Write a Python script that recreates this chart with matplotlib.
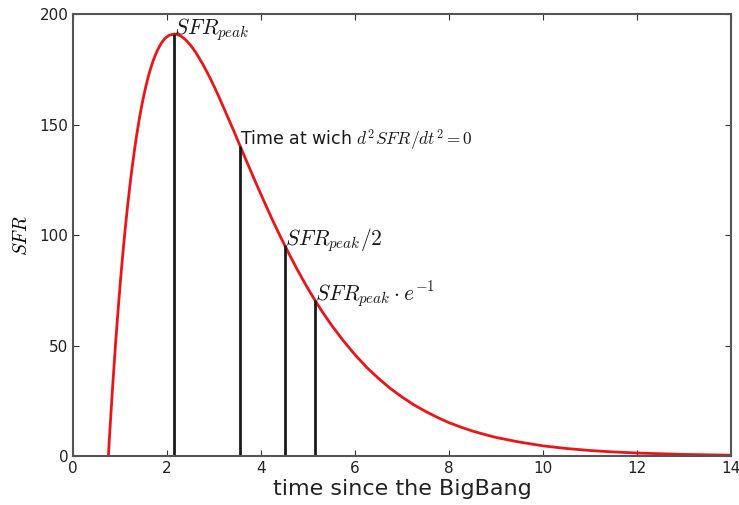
import matplotlib
matplotlib.use('Agg')
import matplotlib.pyplot as plt

plt.rcParams['mathtext.fontset'] = 'cm'

# star formation history
t = [0.75, 0.775, 0.8, 0.85, 0.9, 0.95, 1.0, 1.05, 1.1, 1.15, 1.2, 1.25, 1.3,
     1.35, 1.4, 1.45, 1.5, 1.55, 1.6, 1.65, 1.7, 1.75, 1.8, 1.85, 1.9, 1.95,
     2.0, 2.05, 2.15, 2.22, 2.3, 2.4, 2.5, 2.6, 2.75, 2.9, 3.0, 3.1, 3.25,
     3.4, 3.55, 3.75, 3.9, 4.0, 4.1, 4.25, 4.4, 4.5, 4.6, 4.75, 4.9, 5.0,
     5.15, 5.3, 5.5, 5.75, 6.0, 6.25, 6.5, 6.75, 7.0, 7.25, 7.5, 7.75, 8.0,
     8.25, 8.5, 8.75, 9.0, 9.5, 10.0, 10.5, 11.0, 11.5, 12.0, 13.0, 14.0]
sfr = [0, 9.1, 17.9, 34.5, 50.0, 64.3, 77.6, 89.8, 101.1, 111.5, 121.0,
       129.7, 137.7, 145.0, 151.5, 157.5, 162.8, 167.5, 171.8, 175.5, 178.7,
       181.5, 183.9, 185.9, 187.6, 188.9, 189.8, 190.5, 191.0, 190.8, 190.0,
       188.3, 185.9, 183.0, 177.7, 171.7, 167.3, 162.7, 155.4, 148.1, 140.5,
       130.5, 123.1, 118.3, 113.5, 106.5, 99.8, 95.5, 91.3, 85.2, 79.4, 75.7,
       70.4, 65.4, 59.2, 52.2, 45.8, 40.1, 35.1, 30.6, 26.7, 23.2, 20.2, 17.5,
       15.1, 13.1, 11.3, 9.8, 8.4, 6.3, 4.6, 3.4, 2.5, 1.84, 1.35, 0.72, 0.38]

# marked times and the SFR there
mark_t = [2.15, 3.55, 4.5, 5.15]
mark_sfr = [191.0, 140.5, 95.5, 70.4]
mark_labels = [r'$SFR_{peak}$', r'Time at wich $d^2SFR/dt^2=0$',
               r'$SFR_{peak}/2$', r'$SFR_{peak}\cdot e^{-1}$']
mark_sizes = [15.5, 12.5, 15.5, 15.5]

fig = plt.figure(figsize=(7.39, 5.05), dpi=100)
ax = fig.add_axes([0.099, 0.097, 0.890, 0.875])

ax.plot(t, sfr, color='#e8161b', lw=2)
ax.vlines(mark_t, 0, mark_sfr, color='#1a1a1a', lw=2)
for x, y, s, fs in zip(mark_t, mark_sfr, mark_labels, mark_sizes):
    ax.annotate(s, (x, y), xytext=(0, 0), textcoords='offset points',
                ha='left', va='baseline', fontsize=fs, color='#1a1a1a')

ax.set_xlim(0, 14)
ax.set_ylim(0, 200)
ax.set_xticks(range(0, 15, 2))
ax.set_yticks(range(0, 201, 50))
ax.tick_params(direction='in', top=True, right=True, labelsize=11,
               length=4, color='#333333', labelcolor='#222222')
for sp in ax.spines.values():
    sp.set_color('#555555')
    sp.set_linewidth(1.5)

ax.set_xlabel('time since the BigBang', fontsize=16, color='#222222', labelpad=2)
ax.set_ylabel(r'$SFR$', fontsize=14, labelpad=6)

fig.savefig('out.png', dpi=100)
